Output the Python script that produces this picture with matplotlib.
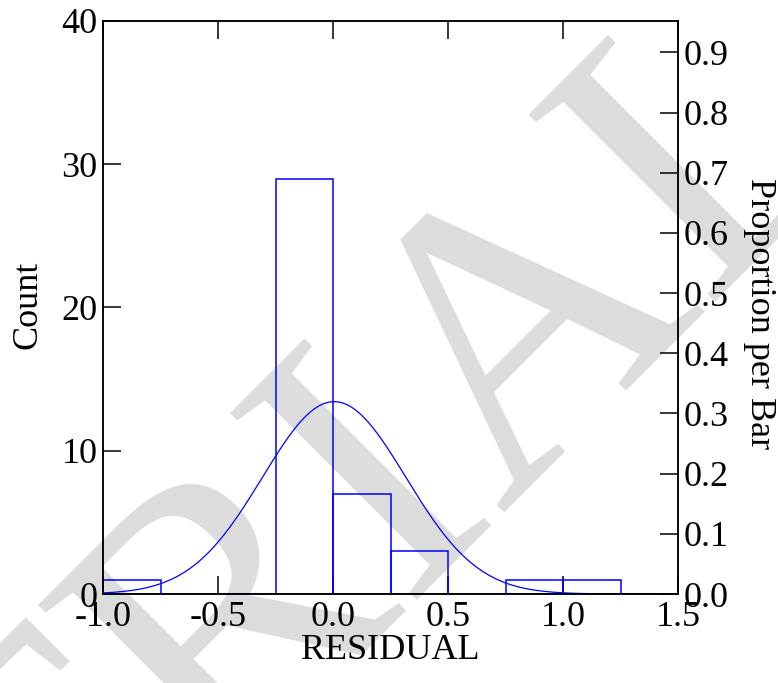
import numpy as np
import matplotlib
matplotlib.use('Agg')
import matplotlib.pyplot as plt

# histogram of residuals, bins of 0.25
bin_left = [-1.0, -0.75, -0.5, -0.25, 0.0, 0.25, 0.5, 0.75, 1.0, 1.25]
counts = [1, 0, 0, 29, 7, 3, 0, 1, 1, 0]
bin_width = 0.25

# fitted normal curve
resid_mean = 0.005
resid_sd = 0.312

x_ticks = [-1.0, -0.5, 0.0, 0.5, 1.0, 1.5]
count_ticks = [0, 10, 20, 30, 40]
prop_ticks = [0.0, 0.1, 0.2, 0.3, 0.4, 0.5, 0.6, 0.7, 0.8, 0.9]

n_total = sum(counts)

plt.rcParams['font.family'] = 'Liberation Serif'

fig = plt.figure(figsize=(7.78, 6.83), dpi=100)

# watermark
fig.text(0.5925, 0.1962, 'TRIAL', fontsize=290, color='#dcdcdc',
         rotation=45, rotation_mode='anchor', ha='center', va='baseline',
         zorder=-1)

ax = fig.add_axes([0.1324, 0.1303, 0.7391, 0.8390])
ax.set_facecolor('none')

ax.bar(bin_left, counts, width=bin_width, align='edge', fill=False,
       edgecolor='#0000ff', linewidth=1.1, zorder=2)

xs = np.linspace(-1.0, 1.5, 500)
pdf = np.exp(-0.5 * ((xs - resid_mean) / resid_sd) ** 2) / (resid_sd * np.sqrt(2 * np.pi))
ax.plot(xs, n_total * bin_width * pdf, color='#0000ff', linewidth=0.9, zorder=2)

ax.set_xlim(-1.0, 1.5)
ax.set_ylim(0, 40)
ax.set_xticks(x_ticks)
ax.set_xticklabels(['%.1f' % v for v in x_ticks])
ax.set_yticks(count_ticks)

for s in ax.spines.values():
    s.set_linewidth(1.1)
    s.set_zorder(3)

ax.tick_params(axis='both', direction='in', length=13, width=1.1,
               labelsize=26, colors='black')
ax.tick_params(axis='x', top=True, bottom=True, pad=5)
ax.tick_params(axis='y', left=True, right=False, pad=4)

ax2 = ax.twinx()
ax2.set_ylim(0, 40 / n_total)
ax2.set_yticks(prop_ticks)
ax2.set_yticklabels(['%.1f' % v for v in prop_ticks])
ax2.tick_params(axis='y', direction='in', length=13, width=1.1,
                labelsize=26, pad=4)
for s in ax2.spines.values():
    s.set_linewidth(1.1)

ax.set_xlabel('RESIDUAL', fontsize=26)
ax.xaxis.set_label_coords(0.5, -0.098)
ax.xaxis.label.set_va('center')
ax.set_ylabel('Count', fontsize=26)
ax.yaxis.set_label_coords(-0.13, 0.504)
ax.yaxis.label.set_va('center')
ax2.set_ylabel('Proportion per Bar', fontsize=26, rotation=270)
ax2.yaxis.set_label_coords(1.142, 0.489)
ax2.yaxis.label.set_va('center')

fig.savefig('out.png', dpi=100)
